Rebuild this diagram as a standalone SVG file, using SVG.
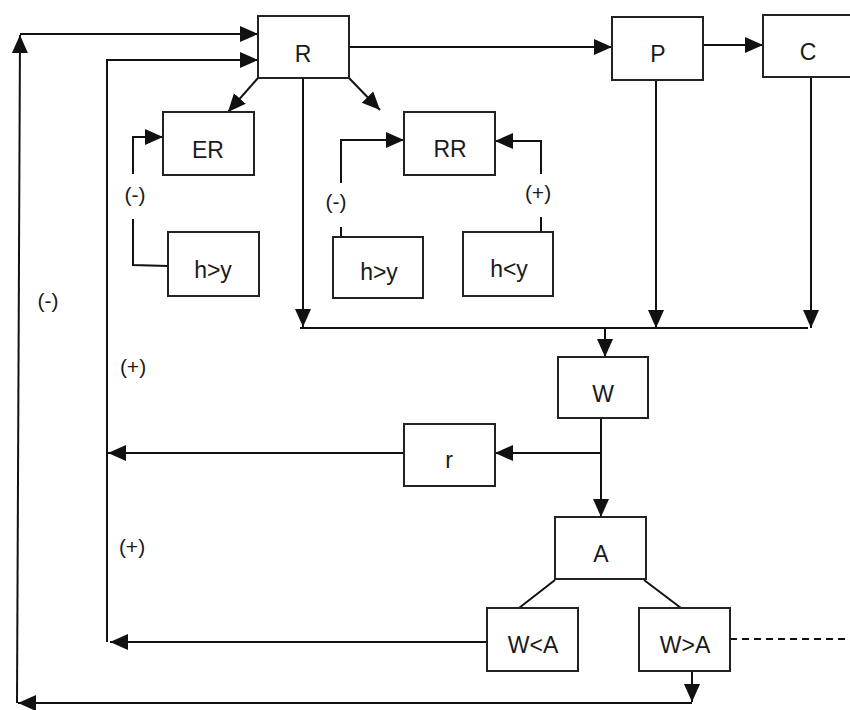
<svg xmlns="http://www.w3.org/2000/svg" width="850" height="710" viewBox="0 0 850 710">
<style>
.box{fill:#fff;stroke:#222;stroke-width:2}
.t{font-family:"Liberation Sans",Arial,sans-serif;font-size:23px;fill:#1a1a1a;text-anchor:middle}
.lb{font-family:"Liberation Sans",Arial,sans-serif;font-size:21px;fill:#1a1a1a;text-anchor:middle}
.c{fill:none;stroke:#111;stroke-width:2}
.a{marker-end:url(#ah)}
.d{stroke-dasharray:7,5}
</style>
<defs>
<marker id="ah" markerUnits="userSpaceOnUse" markerWidth="19" markerHeight="18" refX="18" refY="8" orient="auto">
<path d="M0,0 L18,8 L0,16 z" fill="#111"/>
</marker>
</defs>
<rect width="850" height="710" fill="#fff"/>
<g id="connectors">
<path class="c a" d="M692,703 L18,703"/>
<path class="c a" d="M17,703 L20,35"/>
<path class="c a" d="M20,34 L258,34"/>
<path class="c a" d="M107,642 V60 H258"/>
<path class="c a" d="M404,453 H108"/>
<path class="c a" d="M487,642 H110"/>
<path class="c a" d="M258,78 L228,112"/>
<path class="c a" d="M349,78 L380,110"/>
<path class="c" d="M168,266 L133,265 V219"/>
<path class="c a" d="M133,174 V137 H163"/>
<path class="c" d="M341,237 V227"/>
<path class="c a" d="M341,183 V140 H404"/>
<path class="c" d="M541,232 V217"/>
<path class="c a" d="M541,174 V141 H495"/>
<path class="c a" d="M349,47 H612"/>
<path class="c a" d="M703,45 H763"/>
<path class="c a" d="M303,78 V327"/>
<path class="c a" d="M656,80 V328"/>
<path class="c a" d="M811,77 V328"/>
<path class="c" d="M300,328 H808"/>
<path class="c a" d="M605,328 V357"/>
<path class="c a" d="M601,418 V517"/>
<path class="c a" d="M601,453 H495"/>
<path class="c" d="M555,580 L519,608"/>
<path class="c" d="M644,580 L681,608"/>
<path class="c d" d="M730,639 H850"/>
<path class="c a" d="M692,671 V702"/>
</g>
<g id="labels">
<text class="lb" x="48" y="308">(-)</text>
<text class="lb" x="135" y="202">(-)</text>
<text class="lb" x="336" y="209">(-)</text>
<text class="lb" x="538" y="200">(+)</text>
<text class="lb" x="133" y="374">(+)</text>
<text class="lb" x="132" y="554">(+)</text>
</g>
<g id="R"><rect class="box" x="258" y="16" width="91" height="62"/><text class="t" x="303" y="62">R</text></g>
<g id="P"><rect class="box" x="612" y="17" width="91" height="63"/><text class="t" x="658" y="62">P</text></g>
<g id="C"><rect class="box" x="763" y="15" width="92" height="62"/><text class="t" x="808" y="60">C</text></g>
<g id="ER"><rect class="box" x="163" y="112" width="91" height="63"/><text class="t" x="208" y="158">ER</text></g>
<g id="RR"><rect class="box" x="404" y="112" width="91" height="63"/><text class="t" x="450" y="157">RR</text></g>
<g id="hgy1"><rect class="box" x="168" y="232" width="91" height="64"/><text class="t" x="213" y="278">h&gt;y</text></g>
<g id="hgy2"><rect class="box" x="333" y="237" width="90" height="61"/><text class="t" x="379" y="280">h&gt;y</text></g>
<g id="hly"><rect class="box" x="463" y="232" width="90" height="64"/><text class="t" x="509" y="277">h&lt;y</text></g>
<g id="W"><rect class="box" x="558" y="357" width="90" height="61"/><text class="t" x="603" y="402">W</text></g>
<g id="r"><rect class="box" x="404" y="424" width="91" height="62"/><text class="t" x="449" y="468">r</text></g>
<g id="A"><rect class="box" x="555" y="517" width="91" height="62"/><text class="t" x="601" y="562">A</text></g>
<g id="WlA"><rect class="box" x="487" y="608" width="91" height="63"/><text class="t" x="533" y="653">W&lt;A</text></g>
<g id="WgA"><rect class="box" x="639" y="608" width="91" height="63"/><text class="t" x="685" y="653">W&gt;A</text></g>
</svg>
